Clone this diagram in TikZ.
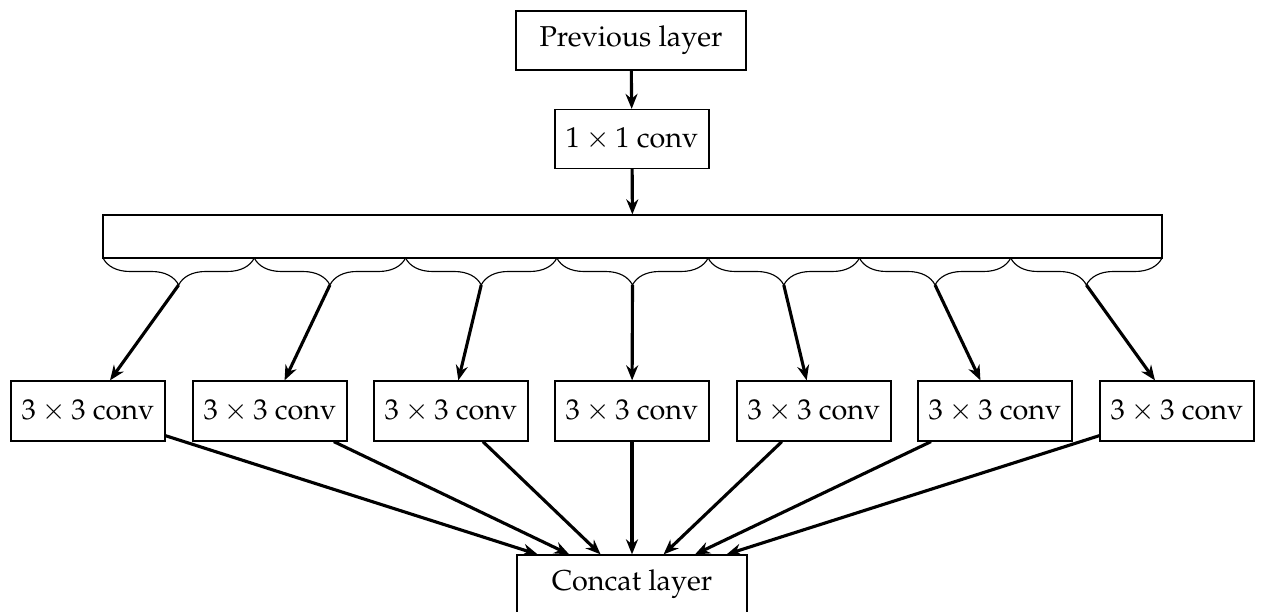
\documentclass[tikz,border=0pt]{standalone}
\usepackage[T1]{fontenc}
\usepackage{mathpazo}
\usetikzlibrary{arrows.meta,decorations.pathreplacing}
\begin{document}
\begin{tikzpicture}[x=0.4pt,y=-0.4pt,
  box/.style={draw, line width=0.5pt, inner sep=0pt, font=\fontsize{11.5}{14}\selectfont},
  wide/.style={box, minimum width=92pt, minimum height=23.6pt},
  conv/.style={box, minimum width=61.6pt, minimum height=23.6pt},
  flow/.style={-{Stealth[length=6pt,width=4.8pt]}, line width=1.25pt},
  bracedown/.style={decorate, decoration={brace, mirror, amplitude=10.8pt}, line width=0.45pt}]
  \clip (0,0) rectangle (1262,612);

  % input path
  \node[wide] (prev) at (631,40.5) {Previous layer};
  \node[conv] (one) at (632,139) {$1\times 1$ conv};
  \node[draw, line width=0.5pt, inner sep=0pt, minimum width=423.6pt, minimum height=17.2pt] (bar) at (632.5,236.5) {};
  \draw[flow] (prev) -- (one);
  \draw[flow] (one) -- (bar);

  % output node
  \node[wide] (concat) at (632,584.5) {Concat layer};

  % channel groups split by braces
  \foreach \i in {0,...,6} {
    \draw[bracedown] ({103+151.286*\i},258) -- ({103+151.286*(\i+1)},258);
    \coordinate (t\i) at ({103+151.286*(\i+0.5)},285);
  }

  % grouped 3x3 convolutions
  \foreach \x [count=\i from 0] in {88,270,451,632,814,995,1177} {
    \node[conv, minimum height=24pt] (c\i) at (\x,411) {$3\times 3$ conv};
    \draw[flow] (t\i) -- (c\i);
    \draw[flow] (c\i) -- (concat);
  }
\end{tikzpicture}
\end{document}
